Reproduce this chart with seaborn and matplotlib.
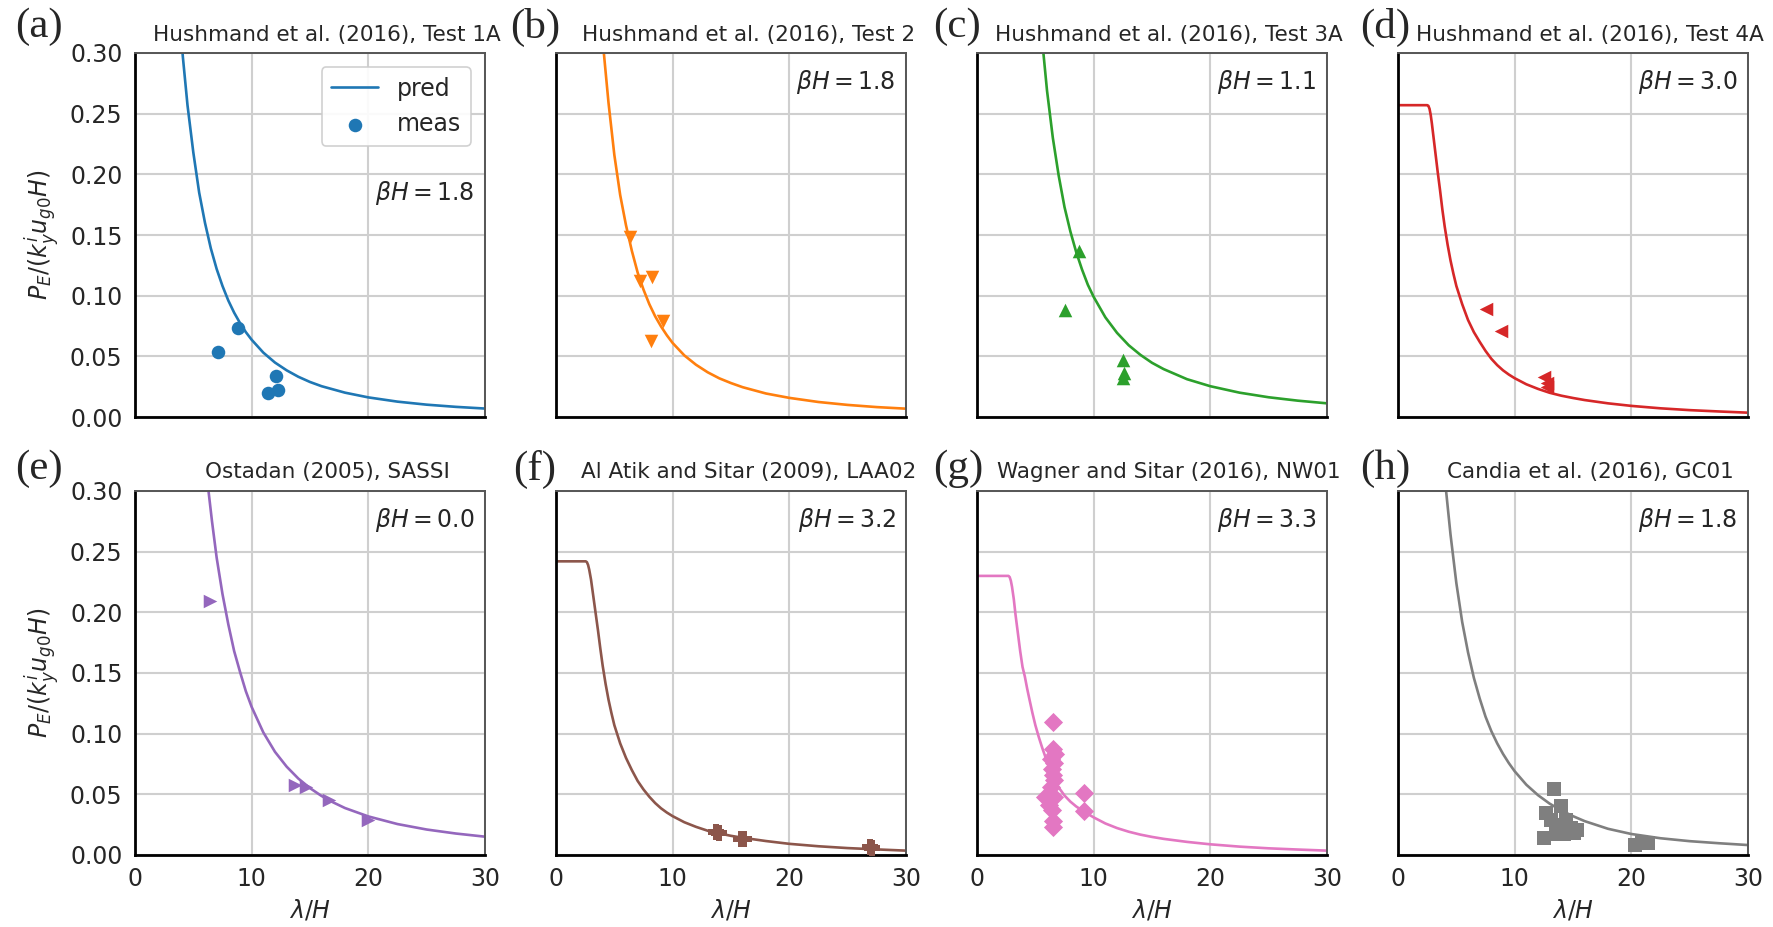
#!/usr/bin/env python3
"""Predicted vs measured dynamic earth pressure for eight test cases (2x4 panels)."""
import matplotlib
matplotlib.use("Agg")
import matplotlib.pyplot as plt
import seaborn as sns

# ---- data ----
titles = ['Hushmand et al. (2016), Test 1A', 'Hushmand et al. (2016), Test 2',
          'Hushmand et al. (2016), Test 3A', 'Hushmand et al. (2016), Test 4A',
          'Ostadan (2005), SASSI', 'Al Atik and Sitar (2009), LAA02',
          'Wagner and Sitar (2016), NW01', 'Candia et al. (2016), GC01']
letters = ['(a)', '(b)', '(c)', '(d)', '(e)', '(f)', '(g)', '(h)']
beta_h = ['1.8', '1.8', '1.1', '3.0', '0.0', '3.2', '3.3', '1.8']
markers = ['o', 'v', '^', '<', '>', 'P', 'D', 's']

# (a)
pred_x_a = [3.9, 4.1, 4.5, 5, 5.5, 6, 6.5, 7, 7.5, 8, 8.5, 9, 9.5, 10, 11, 12, 13, 14, 15, 16,
            18, 20, 22.5, 25, 27.5, 30]
pred_y_a = [0.322, 0.297, 0.257, 0.218, 0.185, 0.160, 0.139, 0.122, 0.108, 0.096, 0.086,
            0.0775, 0.070, 0.0637, 0.0531, 0.0449, 0.0385, 0.0332, 0.0289, 0.0254, 0.0201,
            0.0162, 0.0127, 0.0102, 0.0084, 0.0070]
meas_x_a = [7.1, 8.8, 11.4, 12.3, 12.1]
meas_y_a = [0.054, 0.073, 0.020, 0.022, 0.034]
# (b)
pred_x_b = [3.9, 4.1, 4.5, 5, 5.5, 6, 6.5, 7, 7.5, 8, 8.5, 9, 9.5, 10, 11, 12, 13, 14, 15, 16,
            18, 20, 22.5, 25, 27.5, 30]
pred_y_b = [0.329, 0.300, 0.259, 0.216, 0.183, 0.158, 0.137, 0.119, 0.105, 0.093, 0.083,
            0.0747, 0.0674, 0.061, 0.0508, 0.0431, 0.0369, 0.0319, 0.028, 0.0246, 0.0194,
            0.0158, 0.0124, 0.0100, 0.0082, 0.0069]
meas_x_b = [6.3, 7.2, 8.2, 9.2, 8.1]
meas_y_b = [0.148, 0.112, 0.115, 0.079, 0.063]
# (c)
pred_x_c = [5.5, 5.7, 6, 6.5, 7, 7.5, 8, 8.5, 9, 9.5, 10, 11, 12, 13, 14, 15, 16, 18, 20,
            22.5, 25, 27.5, 30]
pred_y_c = [0.321, 0.299, 0.269, 0.230, 0.199, 0.173, 0.153, 0.136, 0.1216, 0.109, 0.099,
            0.0822, 0.0694, 0.0592, 0.0513, 0.0447, 0.0395, 0.0312, 0.0254, 0.0201, 0.0163,
            0.0135, 0.0113]
meas_x_c = [8.7, 7.5, 12.5, 12.6, 12.5]
meas_y_c = [0.137, 0.088, 0.047, 0.036, 0.032]
# (d)
pred_x_d = [0, 2.5, 2.6, 2.7, 2.8, 2.9, 3.0, 3.2, 3.4, 3.6, 3.8, 4.0, 4.25, 4.5, 4.75, 5.0,
            5.5, 6, 6.5, 7, 7.5, 8, 8.5, 9, 9.5, 10, 11, 12, 13, 14, 15, 16, 18, 20, 22.5,
            25, 27.5, 30]
pred_y_d = [0.257, 0.257, 0.2565, 0.254, 0.249, 0.242, 0.234, 0.218, 0.202, 0.187, 0.171,
            0.157, 0.142, 0.129, 0.118, 0.108, 0.093, 0.080, 0.070, 0.062, 0.0545, 0.048,
            0.0428, 0.0385, 0.035, 0.032, 0.027, 0.0232, 0.020, 0.0176, 0.0157, 0.014,
            0.0113, 0.0092, 0.0072, 0.0057, 0.0046, 0.0036]
meas_x_d = [7.5, 8.8, 12.5, 12.8, 12.8]
meas_y_d = [0.089, 0.071, 0.033, 0.028, 0.025]
# (e)
pred_x_e = [6.1, 6.3, 6.6, 7, 7.5, 8, 8.5, 9, 9.5, 10, 11, 12, 13, 14, 15, 16, 17, 18, 20,
            22.5, 25, 27.5, 30]
pred_y_e = [0.320, 0.300, 0.275, 0.245, 0.215, 0.190, 0.168, 0.151, 0.135, 0.122, 0.101,
            0.085, 0.0728, 0.063, 0.0551, 0.0486, 0.0433, 0.0387, 0.0318, 0.0255, 0.021,
            0.0177, 0.0151]
meas_x_e = [6.4, 13.7, 14.7, 16.6, 20.0]
meas_y_e = [0.209, 0.058, 0.056, 0.045, 0.029]
# (f)
pred_x_f = [0, 2.55, 2.65, 2.75, 2.85, 3.0, 3.2, 3.4, 3.6, 3.8, 4.0, 4.25, 4.5, 4.75, 5.0,
            5.5, 6, 6.5, 7, 7.5, 8, 8.5, 9, 9.5, 10, 11, 12, 13, 14, 15, 16, 18, 20, 22.5,
            25, 27.5, 30]
pred_y_f = [0.242, 0.242, 0.2413, 0.239, 0.235, 0.227, 0.213, 0.199, 0.185, 0.170, 0.156,
            0.141, 0.128, 0.117, 0.107, 0.092, 0.080, 0.070, 0.061, 0.054, 0.048, 0.0428,
            0.0385, 0.035, 0.032, 0.027, 0.0232, 0.020, 0.0178, 0.0158, 0.0142, 0.0115,
            0.0092, 0.0072, 0.0057, 0.0046, 0.0036]
meas_x_f = [13.7, 14.0, 15.9, 16.1, 26.9, 27.1]
meas_y_f = [0.019, 0.018, 0.0135, 0.013, 0.0062, 0.0055]
# (g)
pred_x_g = [0, 2.7, 2.8, 2.9, 3.0, 3.15, 3.3, 3.5, 3.7, 3.9, 4.1, 4.3, 4.5, 4.75, 5.0, 5.3,
            5.6, 6.0, 6.5, 6.9, 7.5, 8.0, 8.5, 9.2, 10, 11, 12, 13, 14, 15, 16, 18, 20,
            22.5, 25, 27.5, 30]
pred_y_g = [0.230, 0.230, 0.229, 0.226, 0.221, 0.211, 0.198, 0.183, 0.168, 0.155, 0.147,
            0.137, 0.128, 0.117, 0.107, 0.097, 0.088, 0.077, 0.065, 0.057, 0.049, 0.044,
            0.040, 0.0355, 0.031, 0.026, 0.0222, 0.0192, 0.0168, 0.0149, 0.0133, 0.0108,
            0.0088, 0.0069, 0.0055, 0.0045, 0.0036]
meas_x_g = [6.5, 6.5, 6.7, 6.3, 6.6, 6.4, 6.5, 6.6, 6.3, 5.8, 6.6, 6.2, 6.4, 6.5, 6.5, 9.2, 9.2]
meas_y_g = [0.110, 0.087, 0.083, 0.079, 0.076, 0.071, 0.066, 0.062, 0.056, 0.048,
            0.048, 0.041, 0.037, 0.028, 0.023, 0.051, 0.036]
# (h)
pred_x_h = [3.9, 4.13, 4.5, 5, 5.5, 6, 6.5, 7, 7.5, 8, 8.5, 9, 9.5, 10, 11, 12, 13, 14, 15,
            16, 18, 20, 22.5, 25, 27.5, 30]
pred_y_h = [0.325, 0.299, 0.264, 0.224, 0.192, 0.167, 0.146, 0.129, 0.114, 0.102, 0.092,
            0.0833, 0.0757, 0.069, 0.0579, 0.0493, 0.0423, 0.0367, 0.032, 0.0279, 0.0216,
            0.0173, 0.0138, 0.0114, 0.0097, 0.0082]
meas_x_h = [13.4, 14.0, 12.7, 13.1, 14.4, 14.8, 15.3, 12.5, 13.5, 14.2, 15.1, 13.9, 20.3, 20.9, 21.4]
meas_y_h = [0.054, 0.040, 0.035, 0.029, 0.029, 0.022, 0.021, 0.014, 0.017, 0.017,
            0.018, 0.025, 0.008, 0.0095, 0.010]

pred_x = [pred_x_a, pred_x_b, pred_x_c, pred_x_d, pred_x_e, pred_x_f, pred_x_g, pred_x_h]
pred_y = [pred_y_a, pred_y_b, pred_y_c, pred_y_d, pred_y_e, pred_y_f, pred_y_g, pred_y_h]
meas_x = [meas_x_a, meas_x_b, meas_x_c, meas_x_d, meas_x_e, meas_x_f, meas_x_g, meas_x_h]
meas_y = [meas_y_a, meas_y_b, meas_y_c, meas_y_d, meas_y_e, meas_y_f, meas_y_g, meas_y_h]

# ---- style ----
sns.set_style("whitegrid", {"grid.color": "#cfcfcf"})
plt.rcParams['font.family'] = ['DejaVu Sans']
colors = sns.color_palette("tab10")
W, H = 1773, 927

fig, axes = plt.subplots(2, 4, figsize=(W / 100, H / 100), dpi=100, sharex=True, sharey=True)
fig.subplots_adjust(left=135 / W, right=1748 / W, top=1 - 53 / H, bottom=1 - 855 / H,
                    wspace=0.203, hspace=0.203)

for i, ax in enumerate(axes.flatten()):
    c = colors[i]
    sns.lineplot(x=pred_x[i], y=pred_y[i], ax=ax, color=c, lw=1.9, estimator=None,
                 sort=False, label='pred' if i == 0 else None, legend=False)
    sns.scatterplot(x=meas_x[i], y=meas_y[i], ax=ax, color=c, marker=markers[i],
                    s=120 if markers[i] == 'P' else 95,
                    linewidth=0, zorder=3, label='meas' if i == 0 else None, legend=False)

    ax.set_xlim(0, 30)
    ax.set_ylim(0, 0.30)
    ax.set_xticks([0, 10, 20, 30])
    ax.set_yticks([0, 0.05, 0.10, 0.15, 0.20, 0.25, 0.30])
    ax.grid(True, lw=1.5, color='#cfcfcf')
    ax.tick_params(axis='both', which='major', direction='out', length=6, width=1.5,
                   color='black', labelsize=17, pad=3)
    for side in ['left', 'bottom']:
        ax.spines[side].set_color('black')
        ax.spines[side].set_linewidth(2.0)
    for side in ['top', 'right']:
        ax.spines[side].set_color('#555555')
        ax.spines[side].set_linewidth(1.4)

    ax.set_title(titles[i], fontsize=15.5, x=0.549, pad=9)
    ypos = 0.616 if i == 0 else 0.92
    ax.text(0.97, ypos, r'$\beta H = %s$' % beta_h[i], transform=ax.transAxes,
            ha='right', va='center', fontsize=17)

    if i % 4 == 0:
        ax.set_ylabel(r'$P_E/(k_y^i u_{g0} H)$', fontsize=17, labelpad=6)
    else:
        ax.set_ylabel('')
    if i >= 4:
        ax.set_xlabel(r'$\lambda/H$', fontsize=17, labelpad=4)
    else:
        ax.set_xlabel('')

leg = axes[0, 0].legend(loc='upper right', fontsize=17, frameon=True, borderaxespad=0.6,
                        fancybox=True, framealpha=0.9)
leg.get_frame().set_edgecolor('#cccccc')
leg.get_frame().set_linewidth(1.2)
axes[0, 0].set_yticklabels(['0.00', '0.05', '0.10', '0.15', '0.20', '0.25', '0.30'])

# panel letters, placed in pixel positions of the reference
letter_x = [15, 510, 933, 1360, 15, 513, 933, 1360]
letter_y = [27, 27, 27, 27, 469, 469, 469, 469]
for lab, lx, ly in zip(letters, letter_x, letter_y):
    fig.text(lx / W, 1 - ly / H, lab, fontsize=31, family=['Liberation Serif', 'DejaVu Serif'],
             ha='left', va='center')

plt.savefig('out.png', dpi=100)
plt.close()
